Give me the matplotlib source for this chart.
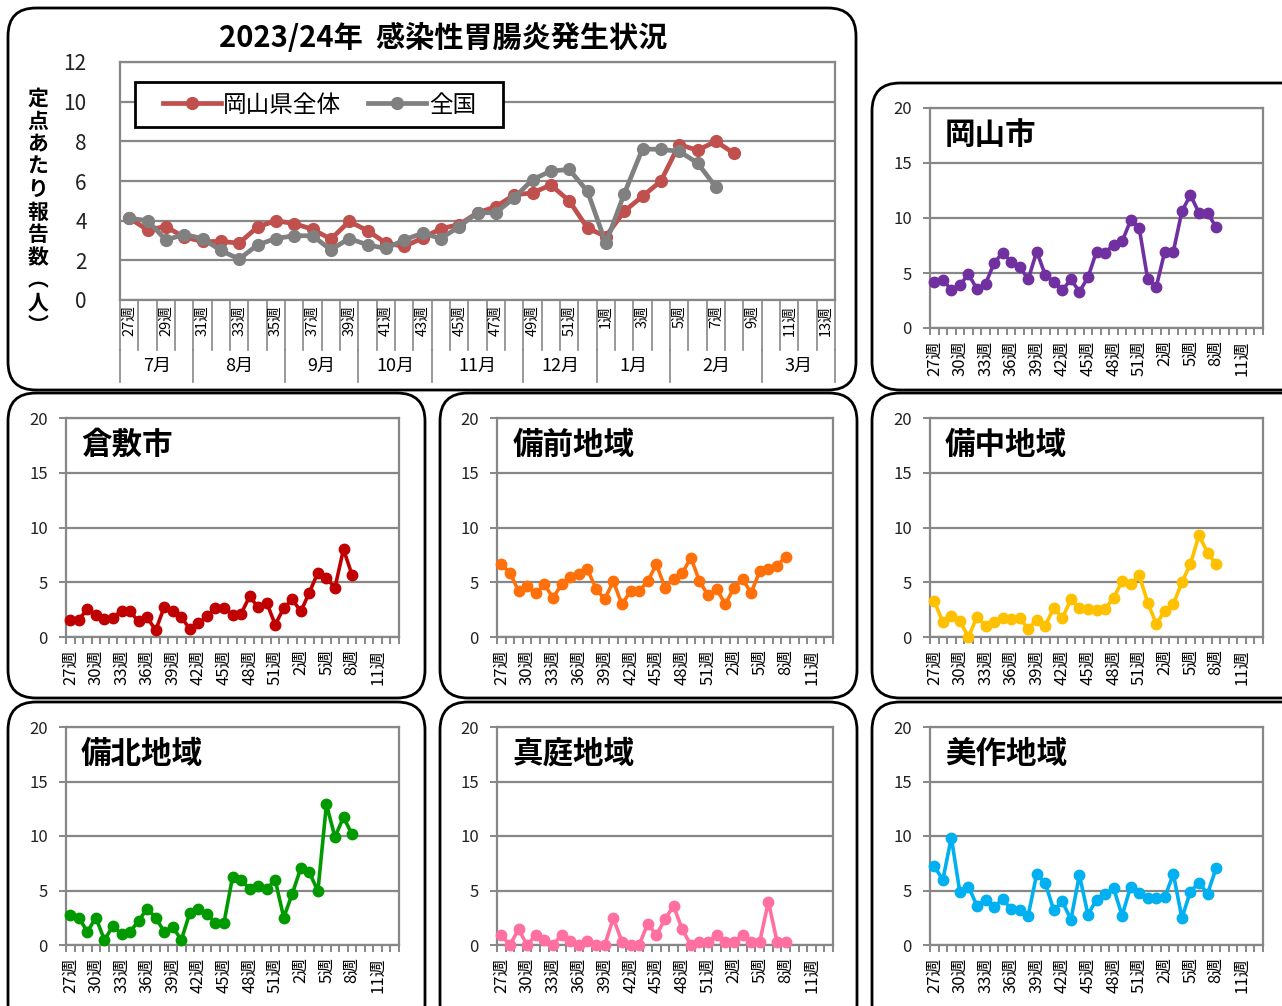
import numpy as np
import matplotlib
matplotlib.use("Agg")
import matplotlib.pyplot as plt
from matplotlib.patches import FancyBboxPatch, Rectangle

plt.rcParams['font.family'] = ['Noto Sans CJK JP', 'DejaVu Sans']

W, H = 1282, 1006

# week categories 2023 wk27 .. 2024 wk13
weeks = list(range(27, 53)) + list(range(1, 14))
week_labels = [f"{w}週" for w in weeks]
months = ["7月", "8月", "9月", "10月", "11月", "12月", "1月", "2月", "3月"]
month_bounds = [0, 4, 9, 13, 17, 22, 26, 30, 35, 39]

pref = [4.13, 3.54, 3.7, 3.17, 2.95, 2.95, 2.87, 3.68, 4.0, 3.85, 3.57, 3.07,
        3.96, 3.5, 2.87, 2.7, 3.12, 3.6, 3.8, 4.4, 4.7, 5.3, 5.4, 5.8, 5.0,
        3.63, 3.2, 4.47, 5.23, 5.99, 7.84, 7.55, 8.0, 7.39]
national = [4.13, 4.0, 3.03, 3.3, 3.1, 2.5, 2.06, 2.78, 3.1, 3.24, 3.24, 2.53,
            3.1, 2.78, 2.6, 3.03, 3.37, 3.1, 3.7, 4.4, 4.4, 5.15, 6.07, 6.5,
            6.58, 5.48, 2.85, 5.35, 7.62, 7.59, 7.5, 6.91, 5.7]

okayama = [4.2, 4.4, 3.45, 3.9, 4.9, 3.54, 4.0, 5.88, 6.86, 6.04, 5.58, 4.42,
           6.95, 4.82, 4.2, 3.45, 4.42, 3.3, 4.6, 6.95, 6.86, 7.56, 7.87, 9.79,
           9.09, 4.42, 3.75, 6.95, 6.95, 10.6, 12.1, 10.46, 10.46, 9.18]
kurashiki = [1.58, 1.58, 2.55, 2.03, 1.64, 1.73, 2.42, 2.33, 1.42, 1.82, 0.6,
             2.73, 2.33, 1.82, 0.73, 1.27, 1.88, 2.64, 2.64, 2.03, 2.12, 3.7,
             2.73, 3.15, 1.12, 2.64, 3.45, 2.33, 4.06, 5.88, 5.36, 4.52, 8.0, 5.67]
bizen = [6.64, 5.87, 4.19, 4.65, 3.98, 4.8, 3.58, 4.8, 5.5, 5.78, 6.18, 4.4,
         3.43, 5.1, 2.97, 4.19, 4.19, 5.1, 6.64, 4.5, 5.32, 5.81, 7.25, 5.1,
         3.8, 4.4, 2.97, 4.5, 5.26, 4.04, 6.02, 6.18, 6.48, 7.34]
bicchu = [3.27, 1.35, 1.9, 1.44, 0.0, 1.83, 1.04, 1.35, 1.74, 1.68, 1.74, 0.73,
          1.59, 1.04, 2.66, 1.74, 3.43, 2.66, 2.57, 2.45, 2.57, 3.58, 5.1, 4.8,
          5.63, 3.12, 1.22, 2.36, 2.97, 5.02, 6.64, 9.3, 7.71, 6.64]
bihoku = [2.73, 2.52, 1.21, 2.52, 0.45, 1.76, 1.0, 1.21, 2.21, 3.33, 2.52, 1.21,
          1.67, 0.45, 2.94, 3.33, 2.88, 2.03, 2.03, 6.21, 5.97, 5.15, 5.45, 5.15,
          5.97, 2.52, 4.7, 7.06, 6.67, 4.94, 12.9, 9.9, 11.73, 10.15]
maniwa = [0.9, 0.0, 1.43, 0.0, 0.9, 0.48, 0.0, 0.9, 0.38, 0.0, 0.38, 0.0, 0.0,
          2.45, 0.32, 0.0, 0.0, 1.97, 0.9, 2.39, 3.57, 1.43, 0.0, 0.32, 0.32,
          0.9, 0.32, 0.32, 0.9, 0.32, 0.32, 3.98, 0.32, 0.32]
mimasaka = [7.24, 5.97, 9.85, 4.82, 5.36, 3.6, 4.15, 3.48, 4.21, 3.3, 3.24, 2.7,
            6.52, 5.67, 3.18, 4.0, 2.33, 6.42, 2.79, 4.15, 4.7, 5.2, 2.7, 5.36,
            4.76, 4.3, 4.3, 4.39, 6.52, 2.48, 4.9, 5.73, 4.7, 7.03]

GRID = "#878787"

fig = plt.figure(figsize=(W / 100, H / 100), dpi=100)

# background with rounded panel frames
bg = fig.add_axes([0, 0, 1, 1], zorder=0)
bg.set_xlim(0, W)
bg.set_ylim(H, 0)
bg.axis("off")
frames = [(8, 8, 848, 382), (872, 83, 440, 307),
          (8, 393, 417, 305), (440, 393, 417, 305), (872, 393, 440, 305),
          (8, 702, 417, 330), (440, 702, 417, 330), (872, 702, 440, 330)]
for x, y, w, h in frames:
    bg.add_patch(FancyBboxPatch((x, y), w, h, boxstyle="round,pad=0,rounding_size=28",
                                fc="white", ec="black", lw=2))


def px_axes(x0, y0, x1, y1):
    return fig.add_axes([x0 / W, 1 - y1 / H, (x1 - x0) / W, (y1 - y0) / H], zorder=2)


def style_axes(ax):
    for s in ax.spines.values():
        s.set_color(GRID)
        s.set_linewidth(1.6)
    ax.grid(axis="y", color=GRID, lw=1.6)
    ax.set_axisbelow(True)
    ax.set_xlim(-0.5, len(weeks) - 0.5)


# ---- main chart ----
ax = px_axes(120, 62, 835, 300)
style_axes(ax)
ax.set_ylim(0, 12)
ax.set_yticks(range(0, 13, 2))
ax.tick_params(axis="y", length=0, pad=24, labelsize=15, labelcolor="#222222")
ax.set_xticks([])
ax.plot(range(len(pref)), pref, color="#C0504D", lw=3.4, marker="o", ms=8.5,
        clip_on=False, label="岡山県全体", zorder=3)
ax.plot(range(len(national)), national, color="#808080", lw=3.4, marker="o", ms=8.5,
        clip_on=False, label="全国", zorder=4)

trans = ax.get_xaxis_transform()
row1 = 50 / 238
row2 = 82 / 238
for k in range(len(weeks) + 1):
    ax.plot([k - 0.5, k - 0.5], [0, -row1], color=GRID, lw=1.2, transform=trans, clip_on=False)
for k in range(0, len(weeks), 2):
    ax.text(k, -5 / 238, week_labels[k], rotation=90, ha="center", va="top",
            fontsize=10.5, transform=trans)
for b in month_bounds:
    ax.plot([b - 0.5, b - 0.5], [-row1, -row2], color=GRID, lw=1.2, transform=trans, clip_on=False)
for m, a, b in zip(months, month_bounds[:-1], month_bounds[1:]):
    ax.text((a + b) / 2 - 0.5, -(66 / 238), m, ha="center", va="center",
            fontsize=13, transform=trans)

# legend box drawn by hand so its size matches
ax.add_patch(Rectangle((135, 82), 368, 45, transform=bg.transData, fc="white",
                       ec="black", lw=2, clip_on=False, zorder=5))
leg = ax.legend(loc="center left", ncol=2,
                bbox_to_anchor=(163 / W, 1 - 105 / H),
                bbox_transform=fig.transFigure, borderaxespad=0, borderpad=0,
                fontsize=17, handlelength=2.45, numpoints=1, frameon=False,
                handletextpad=0.1, columnspacing=1.15)
leg.set_zorder(6)

fig.text(443 / W, 1 - 38 / H, "2023/24年  感染性胃腸炎発生状況", ha="center",
         va="center", fontsize=21, fontweight="bold")
ylab = "\n".join(list("定点あたり報告数") + ["︵", "人", "︶"])
fig.text(38 / W, 1 - 212 / H, ylab, ha="center", va="center", fontsize=15,
         fontweight="bold", linespacing=1.1)

# ---- regional panels ----
panels = [
    ("岡山市", okayama, "#7030A0", (930, 108, 1263, 328)),
    ("倉敷市", kurashiki, "#C00000", (66, 418, 399, 637)),
    ("備前地域", bizen, "#FF700A", (497, 418, 833, 637)),
    ("備中地域", bicchu, "#FFC000", (930, 418, 1263, 637)),
    ("備北地域", bihoku, "#009A00", (66, 727, 399, 945)),
    ("真庭地域", maniwa, "#FF6FA0", (497, 727, 833, 945)),
    ("美作地域", mimasaka, "#00B0F0", (930, 727, 1263, 945)),
]

for name, vals, col, box in panels:
    a = px_axes(*box)
    style_axes(a)
    a.set_ylim(0, 20)
    a.set_yticks(range(0, 21, 5))
    a.tick_params(axis="y", length=5, color=GRID, width=1.4, pad=8,
                  labelsize=12, labelcolor="#222222")
    a.set_xticks(range(0, len(weeks), 3))
    a.set_xticklabels(week_labels[::3], rotation=90, fontsize=12, va="top")
    a.set_xticks(np.arange(-0.5, len(weeks), 1), minor=True)
    a.tick_params(axis="x", which="major", length=0, pad=9)
    a.tick_params(axis="x", which="minor", length=5, color=GRID, width=1.4)
    a.plot(range(len(vals)), vals, color=col, lw=2.6, marker="o", ms=7.5,
           clip_on=False, zorder=3)
    a.text(0.045, 0.877, name, transform=a.transAxes, ha="left", va="center",
           fontsize=22, fontweight="bold")

fig.savefig("out.png", dpi=100)
